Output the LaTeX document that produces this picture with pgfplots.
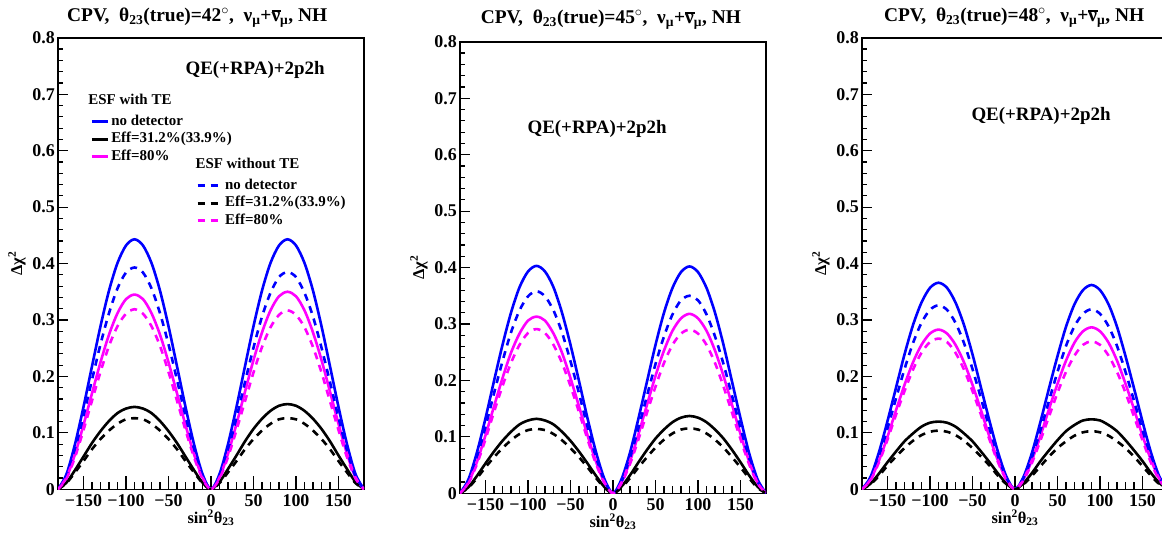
\documentclass[border=0pt]{standalone}
\usepackage{fontspec}
\setmainfont{Liberation Serif}
\usepackage{pgfplots}
\usepackage{pgfplotstable}
\pgfplotsset{compat=1.18}

\definecolor{rblue}{RGB}{0,0,255}
\definecolor{rmag}{RGB}{255,0,255}

% columns: a = blue solid, b = black solid, c = magenta solid,
%          d = blue dashed, e = black dashed, f = magenta dashed
\pgfplotstableread{
x a b c d e f
-180 0 0 0 0 0 0
-170 .027 .012 .021 .024 .011 .019
-160 .080 .034 .062 .071 .030 .057
-150 .146 .058 .114 .130 .050 .105
-140 .218 .082 .170 .194 .071 .157
-130 .289 .103 .225 .257 .089 .208
-120 .352 .121 .274 .312 .104 .254
-110 .401 .135 .312 .356 .116 .289
-100 .432 .143 .337 .384 .124 .311
-90 .443 .146 .345 .393 .126 .319
-80 .432 .143 .337 .384 .124 .311
-70 .401 .135 .312 .356 .116 .289
-60 .352 .121 .274 .312 .104 .254
-50 .289 .103 .225 .257 .089 .208
-40 .218 .082 .170 .194 .071 .157
-30 .146 .058 .114 .130 .050 .105
-20 .080 .034 .062 .071 .030 .057
-10 .027 .012 .021 .024 .011 .019
0 0 0 0 0 0 0
10 .027 .013 .021 .023 .011 .019
20 .080 .036 .063 .069 .030 .057
30 .146 .060 .116 .127 .050 .105
40 .218 .085 .173 .190 .071 .156
50 .289 .107 .229 .251 .089 .207
60 .352 .125 .278 .306 .104 .252
70 .401 .139 .317 .348 .116 .287
80 .432 .148 .342 .376 .124 .309
90 .443 .151 .350 .385 .126 .317
100 .432 .148 .342 .376 .124 .309
110 .401 .139 .317 .348 .116 .287
120 .352 .125 .278 .306 .104 .252
130 .289 .107 .229 .251 .089 .207
140 .218 .085 .173 .190 .071 .156
150 .146 .060 .116 .127 .050 .105
160 .080 .036 .063 .069 .030 .057
170 .027 .013 .021 .023 .011 .019
180 0 0 0 0 0 0
}\dataA

\pgfplotstableread{
x a b c d e f
-180 0 0 0 0 0 0
-170 .025 .011 .019 .022 .010 .018
-160 .073 .031 .056 .064 .027 .052
-150 .133 .053 .103 .118 .046 .096
-140 .199 .074 .154 .177 .064 .144
-130 .263 .093 .204 .234 .080 .190
-120 .320 .109 .249 .285 .094 .231
-110 .365 .122 .283 .324 .105 .263
-100 .393 .129 .306 .349 .112 .284
-90 .403 .132 .313 .358 .114 .291
-80 .393 .129 .306 .349 .112 .284
-70 .365 .122 .283 .324 .105 .263
-60 .320 .109 .249 .285 .094 .231
-50 .263 .093 .204 .234 .080 .190
-40 .199 .074 .154 .177 .064 .144
-30 .133 .053 .103 .118 .046 .096
-20 .073 .031 .056 .064 .027 .052
-10 .025 .011 .019 .022 .010 .018
0 0 0 0 0 0 0
10 .025 .012 .019 .021 .010 .018
20 .072 .032 .057 .063 .027 .052
30 .133 .055 .105 .116 .046 .096
40 .198 .077 .157 .173 .064 .143
50 .263 .097 .208 .229 .081 .189
60 .320 .113 .253 .278 .095 .231
70 .364 .126 .288 .317 .106 .263
80 .392 .134 .310 .342 .113 .283
90 .402 .137 .318 .350 .115 .290
100 .392 .134 .310 .342 .113 .283
110 .364 .126 .288 .317 .106 .263
120 .320 .113 .253 .278 .095 .231
130 .263 .097 .208 .229 .081 .189
140 .198 .077 .157 .173 .064 .143
150 .133 .055 .105 .116 .046 .096
160 .072 .032 .057 .063 .027 .052
170 .025 .012 .019 .021 .010 .018
180 0 0 0 0 0 0
}\dataB

\pgfplotstableread{
x a b c d e f
-180 0 0 0 0 0 0
-170 .022 .010 .017 .020 .009 .016
-160 .066 .028 .051 .059 .024 .048
-150 .121 .048 .093 .108 .042 .088
-140 .180 .067 .140 .161 .058 .132
-130 .239 .085 .185 .213 .073 .174
-120 .291 .099 .225 .259 .086 .212
-110 .331 .111 .256 .295 .096 .242
-100 .357 .118 .276 .318 .102 .261
-90 .366 .120 .283 .326 .104 .267
-80 .357 .118 .276 .318 .102 .261
-70 .331 .111 .256 .295 .096 .242
-60 .291 .099 .225 .259 .086 .212
-50 .239 .085 .185 .213 .073 .174
-40 .180 .067 .140 .161 .058 .132
-30 .121 .048 .093 .108 .042 .088
-20 .066 .028 .051 .059 .024 .048
-10 .022 .010 .017 .020 .009 .016
0 0 0 0 0 0 0
10 .022 .011 .018 .020 .009 .016
20 .065 .029 .052 .057 .024 .047
30 .120 .050 .095 .105 .041 .087
40 .179 .069 .142 .157 .058 .129
50 .236 .087 .187 .208 .073 .171
60 .288 .103 .228 .254 .085 .208
70 .328 .114 .260 .289 .095 .237
80 .353 .122 .280 .311 .101 .256
90 .362 .124 .287 .319 .103 .262
100 .353 .122 .280 .311 .101 .256
110 .328 .114 .260 .289 .095 .237
120 .288 .103 .228 .254 .085 .208
130 .236 .087 .187 .208 .073 .171
140 .179 .069 .142 .157 .058 .129
150 .120 .050 .095 .105 .041 .087
160 .065 .029 .052 .057 .024 .047
170 .022 .011 .018 .020 .009 .016
180 0 0 0 0 0 0
}\dataC

\pgfplotsset{
  panel/.style={
    scale only axis, width=306bp, height=451.5bp,
    xmin=-180, xmax=180, ymin=0, ymax=0.8,
    xtick={-150,-100,-50,0,50,100,150},
    xticklabels={−150,−100,−50,0,50,100,150},
    ytick={0,0.1,0.2,0.3,0.4,0.5,0.6,0.7,0.8},
    yticklabels={0,0.1,0.2,0.3,0.4,0.5,0.6,0.7,0.8},
    minor x tick num=4, minor y tick num=4,
    tick pos=left, tick align=inside,
    major tick length=10bp, minor tick length=5bp,
    xtick style={/pgfplots/major tick length=13bp, /pgfplots/minor tick length=7bp},
    axis line style={line width=1.5bp},
    every tick/.style={black, line width=1.2bp},
    tick label style={font=\fontsize{18}{20}\selectfont\bfseries},
    xticklabel style={anchor=base, yshift=-17bp},
    yticklabel style={anchor=east, inner sep=0pt, xshift=-3bp},
    label style={font=\fontsize{16.5}{18}\selectfont\bfseries},
    xlabel={sin\textsuperscript{2}θ\textsubscript{23}},
    ylabel={Δχ\textsuperscript{2}},
    xlabel style={at={(axis description cs:0.5,0)}, anchor=base, yshift=-34bp},
    ylabel style={at={(axis description cs:-0.1176,0.5)}, anchor=base, rotate=0},
    title style={font=\fontsize{19.5}{21}\selectfont\bfseries, anchor=base},
    clip=true,
  },
  hidden/.style={
    scale only axis, width=306bp, height=451.5bp,
    xmin=-180, xmax=180, ymin=0, ymax=0.8, hide axis,
  },
  sol/.style={line width=2.6bp, smooth},
  das/.style={line width=2.6bp, smooth, dash pattern=on 7bp off 6bp},
}

\newcommand{\nubar}{\makebox[0pt][l]{\raisebox{0.52em}{\rule{0.5em}{1.3bp}}}ν}
\newcommand{\ttl}[1]{CPV,\ \ θ\textsubscript{23}(true)=#1\textsuperscript{$\circ$},\ \ ν\textsubscript{μ}+\nubar\textsubscript{μ}, NH}

\begin{document}
\begin{tikzpicture}
% ---------------- panel 1 ----------------
\begin{axis}[panel, at={(58bp,49.7bp)}, anchor=south west,
  title={\ttl{42}}, title style={at={(axis description cs:0.455,1)}, yshift=10bp},
  legend style={at={(axis description cs:0.095,0.836)}, anchor=north west,
    draw=none, fill=none, font=\fontsize{15}{17}\selectfont\bfseries,
    nodes={inner sep=0pt, text height=11bp, text depth=4bp, anchor=west},
    row sep=2.5bp, column sep=2bp},
  legend cell align=left,
  legend image code/.code={\draw[#1, line width=3bp] (0bp,0bp) -- (16bp,0bp);}]
\addplot[sol, rblue] table[x=x, y=a] {\dataA};
\addlegendentry{no detector}
\addplot[sol, black] table[x=x, y=b] {\dataA};
\addlegendentry{Eff=31.2\%(33.9\%)}
\addplot[sol, rmag] table[x=x, y=c] {\dataA};
\addlegendentry{Eff=80\%}
\node[anchor=base west, font=\fontsize{15}{17}\selectfont\bfseries] at (rel axis cs:0.088,0.852) {ESF with TE};
\node[anchor=base west, font=\fontsize{15}{17}\selectfont\bfseries] at (rel axis cs:0.438,0.710) {ESF without TE};
\node[font=\fontsize{19}{20}\selectfont\bfseries] at (rel axis cs:0.644,0.929) {QE(+RPA)+2p2h};
\end{axis}
\begin{axis}[hidden, at={(58bp,49.7bp)}, anchor=south west,
  legend style={at={(axis description cs:0.441,0.694)}, anchor=north west,
    draw=none, fill=none, font=\fontsize{15}{17}\selectfont\bfseries,
    nodes={inner sep=0pt, text height=11bp, text depth=4bp, anchor=west},
    row sep=2.5bp, column sep=6bp},
  legend cell align=left,
  legend image code/.code={\draw[#1, line width=3bp] (0bp,0bp) -- (20bp,0bp);}]
\addplot[das, rblue] table[x=x, y=d] {\dataA};
\addlegendentry{no detector}
\addplot[das, black] table[x=x, y=e] {\dataA};
\addlegendentry{Eff=31.2\%(33.9\%)}
\addplot[das, rmag] table[x=x, y=f] {\dataA};
\addlegendentry{Eff=80\%}
\end{axis}
% ---------------- panel 2 ----------------
\begin{axis}[panel, at={(460bp,45.7bp)}, anchor=south west,
  title={\ttl{45}}, title style={at={(axis description cs:0.493,1)}, yshift=12bp}]
\addplot[sol, rblue] table[x=x, y=a] {\dataB};
\addplot[sol, black] table[x=x, y=b] {\dataB};
\addplot[sol, rmag] table[x=x, y=c] {\dataB};
\addplot[das, rblue] table[x=x, y=d] {\dataB};
\addplot[das, black] table[x=x, y=e] {\dataB};
\addplot[das, rmag] table[x=x, y=f] {\dataB};
\node[font=\fontsize{19}{20}\selectfont\bfseries] at (rel axis cs:0.448,0.808) {QE(+RPA)+2p2h};
\end{axis}
% ---------------- panel 3 ----------------
\begin{axis}[panel, at={(862bp,49.7bp)}, anchor=south west,
  title={\ttl{48}}, title style={at={(axis description cs:0.497,1)}, yshift=10bp}]
\addplot[sol, rblue] table[x=x, y=a] {\dataC};
\addplot[sol, black] table[x=x, y=b] {\dataC};
\addplot[sol, rmag] table[x=x, y=c] {\dataC};
\addplot[das, rblue] table[x=x, y=d] {\dataC};
\addplot[das, black] table[x=x, y=e] {\dataC};
\addplot[das, rmag] table[x=x, y=f] {\dataC};
\node[font=\fontsize{19}{20}\selectfont\bfseries] at (rel axis cs:0.585,0.827) {QE(+RPA)+2p2h};
\end{axis}
\pgfresetboundingbox
\useasboundingbox (0bp,0bp) rectangle (1162bp,539bp);
\end{tikzpicture}
\end{document}
